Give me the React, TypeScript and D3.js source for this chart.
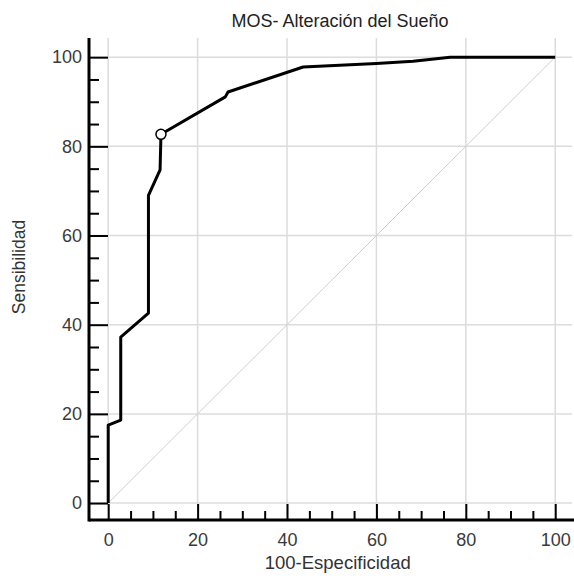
import React, { useRef, useEffect } from 'react';
import * as d3 from 'd3';

// ROC curve points
const fpr = [0, 0, 2.8, 2.8, 9.0, 9.0, 11.6, 11.8, 26.2, 26.8, 43.6, 60, 68.2, 76.5, 100];
const tpr = [0, 17.5, 18.6, 37.2, 42.6, 69, 74.7, 82.7, 91.1, 92.2, 97.8, 98.6, 99.1, 100, 100];
const cutoff = { fpr: 11.8, tpr: 82.7 };

const majorTicks = [0, 20, 40, 60, 80, 100];
const minorTicks = d3.range(0, 101, 5).filter(v => v % 20 !== 0);

const title = 'MOS- Alteración del Sueño';
const xLabel = '100-Especificidad';
const yLabel = 'Sensibilidad';

const W = 574;
const H = 579;
const font = '"Liberation Sans", Arial, sans-serif';

export default function App() {
  const ref = useRef<SVGSVGElement>(null);

  useEffect(() => {
    if (!ref.current) return;
    const svg = d3.select(ref.current);
    svg.selectAll('*').remove();

    const x = d3.scaleLinear().domain([-4.3, 104.2]).range([89, 574]);
    const y = d3.scaleLinear().domain([-3.8, 104.3]).range([520, 38]);
    const [x0, x1] = x.range();
    const [yb, yt] = y.range();

    // grid
    const grid = svg.append('g');
    grid.selectAll('.vg')
      .data(majorTicks)
      .enter()
      .append('line')
      .attr('x1', d => x(d)).attr('x2', d => x(d))
      .attr('y1', yb).attr('y2', yt)
      .attr('stroke', '#dcdcdc')
      .attr('stroke-width', 1.5);
    grid.selectAll('.hg')
      .data(majorTicks)
      .enter()
      .append('line')
      .attr('x1', x0).attr('x2', x1 - 2)
      .attr('y1', d => y(d)).attr('y2', d => y(d))
      .attr('stroke', '#dcdcdc')
      .attr('stroke-width', 1.5);

    // diagonal reference line
    svg.append('line')
      .attr('x1', x(0)).attr('y1', y(0))
      .attr('x2', x(100)).attr('y2', y(100))
      .attr('stroke', '#cfcfcf')
      .attr('stroke-width', 1);

    // ROC curve
    const pts = fpr.map((f, i) => [f, tpr[i]] as [number, number]);
    const line = d3.line<[number, number]>()
      .x(d => x(d[0]))
      .y(d => y(d[1]));
    svg.append('path')
      .datum(pts)
      .attr('fill', 'none')
      .attr('stroke', '#000')
      .attr('stroke-width', 3)
      .attr('stroke-linejoin', 'round')
      .attr('d', line);

    svg.append('circle')
      .attr('cx', x(cutoff.fpr))
      .attr('cy', y(cutoff.tpr))
      .attr('r', 5)
      .attr('fill', '#fff')
      .attr('stroke', '#000')
      .attr('stroke-width', 1.5);

    // axes
    const styleAxis = (g: d3.Selection<SVGGElement, unknown, null, undefined>) => {
      g.select('.domain').remove();
      g.selectAll('.tick line').attr('stroke', '#000').attr('stroke-width', 2);
      g.selectAll('.tick text')
        .attr('fill', '#3a3a3a')
        .style('font-family', font)
        .style('font-size', '18px');
    };

    svg.append('g')
      .attr('transform', `translate(0,${yb})`)
      .call(d3.axisBottom(x).tickValues(minorTicks).tickSize(-9).tickFormat(() => ''))
      .call(styleAxis);
    svg.append('g')
      .attr('transform', `translate(0,${yb})`)
      .call(d3.axisBottom(x).tickValues(majorTicks).tickSize(-16).tickPadding(13).tickFormat(d3.format('d')))
      .call(styleAxis);

    svg.append('g')
      .attr('transform', `translate(${x0},0)`)
      .call(d3.axisLeft(y).tickValues(minorTicks).tickSize(-10).tickFormat(() => ''))
      .call(styleAxis);
    svg.append('g')
      .attr('transform', `translate(${x0},0)`)
      .call(d3.axisLeft(y).tickValues(majorTicks).tickSize(-19).tickPadding(7).tickFormat(d3.format('d')))
      .call(styleAxis);

    // axis lines
    svg.append('line')
      .attr('x1', x0).attr('x2', x1)
      .attr('y1', yb).attr('y2', yb)
      .attr('stroke', '#000').attr('stroke-width', 3);
    svg.append('line')
      .attr('x1', x0).attr('x2', x0)
      .attr('y1', yt).attr('y2', yb + 1.5)
      .attr('stroke', '#000').attr('stroke-width', 3);

    // labels
    svg.append('text')
      .attr('x', 340).attr('y', 27)
      .attr('text-anchor', 'middle')
      .attr('fill', '#222')
      .style('font-family', font)
      .style('font-size', '18px')
      .text(title);

    svg.append('text')
      .attr('x', (x(0) + x(100)) / 2 + 6).attr('y', 569)
      .attr('text-anchor', 'middle')
      .attr('fill', '#333')
      .style('font-family', font)
      .style('font-size', '18.5px')
      .text(xLabel);

    svg.append('text')
      .attr('transform', `translate(25,${267}) rotate(-90)`)
      .attr('text-anchor', 'middle')
      .attr('fill', '#333')
      .style('font-family', font)
      .style('font-size', '17.5px')
      .text(yLabel);
  }, []);

  return (
    <svg
      ref={ref}
      width={W}
      height={H}
      style={{ position: 'absolute', left: 0, top: 0, background: '#fff' }}
    />
  );
}
